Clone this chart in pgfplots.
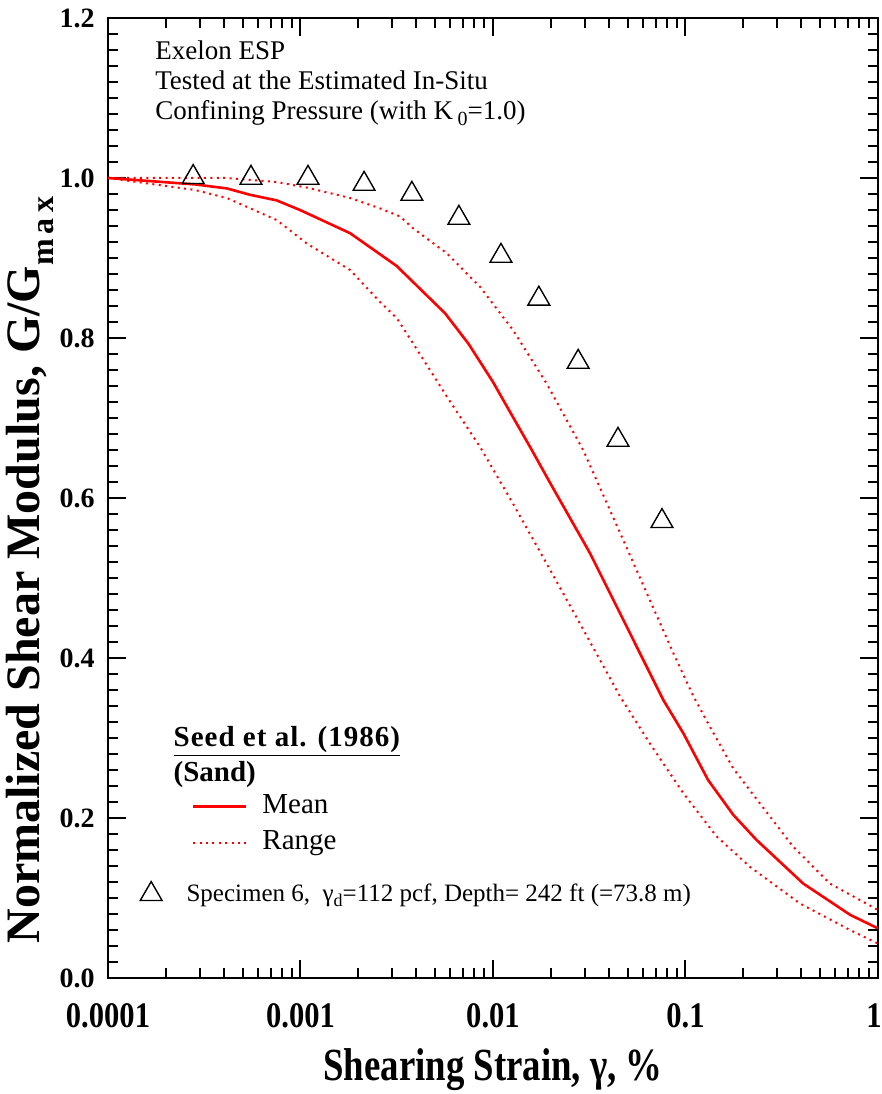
\documentclass[border=0pt]{standalone}
\usepackage{pgfplots}
\pgfplotsset{compat=1.18}
\usepackage{fontspec}
\setmainfont{Liberation Serif}
\definecolor{myred}{RGB}{255,0,0}

\pgfplotstableread{
x y
0.0001 1.000
0.000283 0.992
0.000414 0.987
0.000547 0.979
0.000752 0.972
0.000994 0.960
0.00181 0.931
0.00316 0.890
0.00563 0.831
0.00745 0.793
0.0100 0.745
0.0113 0.7225
0.0159 0.660
0.0200 0.617
0.0319 0.531
0.0767 0.3475
0.0974 0.306
0.131 0.2475
0.177 0.204
0.234 0.1725
0.409 0.118
0.716 0.079
1.0 0.062
}\meandata

\pgfplotstableread{
x y
0.0001 1.000
0.000414 1.000
0.000752 0.995
0.00108 0.988
0.00181 0.975
0.00259 0.962
0.00329 0.952
0.00385 0.937
0.00575 0.906
0.00856 0.864
0.0127 0.810
0.0190 0.743
0.0294 0.660
0.0475 0.5475
0.0865 0.406
0.110 0.352
0.134 0.314
0.177 0.262
0.244 0.218
0.363 0.164
0.563 0.118
1.0 0.085
}\upperdata

\pgfplotstableread{
x y
0.0001 1.000
0.000283 0.985
0.000414 0.975
0.000752 0.9475
0.00108 0.918
0.00181 0.885
0.00259 0.845
0.00316 0.825
0.00385 0.793
0.00575 0.727
0.00856 0.664
0.0127 0.593
0.0190 0.518
0.0283 0.443
0.0457 0.352
0.0654 0.293
0.0974 0.231
0.145 0.177
0.216 0.139
0.394 0.093
0.716 0.060
1.0 0.043
}\lowerdata

\pgfplotstableread{
x y
0.000277 1.001
0.000553 1.000
0.001094 1.000
0.00214 0.9925
0.00379 0.980
0.00665 0.950
0.0110 0.9025
0.0173 0.849
0.0277 0.770
0.0446 0.6725
0.0755 0.571
}\specdata

\begin{document}
\begin{tikzpicture}
\begin{axis}[
  name=main,
  scale only axis, width=385pt, height=480pt,
  xmode=log, xmin=1e-4, xmax=1, ymin=0, ymax=1.2,
  axis line style={line width=1.2pt},
  every tick/.style={black, line width=1pt},
  major tick length=9pt, minor tick length=5pt,
  tick align=inside,
  xtick={1e-4,1e-3,1e-2,1e-1,1},
  xticklabels={\scalebox{0.85}[1]{0.0001},\scalebox{0.85}[1]{0.001},\scalebox{0.85}[1]{0.01},\scalebox{0.85}[1]{0.1},\hspace*{-4pt}\scalebox{0.85}[1]{1}},
  minor xtick={2e-4,3e-4,4e-4,5e-4,6e-4,7e-4,8e-4,9e-4,
               2e-3,3e-3,4e-3,5e-3,6e-3,7e-3,8e-3,9e-3,
               2e-2,3e-2,4e-2,5e-2,6e-2,7e-2,8e-2,9e-2,
               0.2,0.3,0.4,0.5,0.6,0.7,0.8,0.9},
  ytick={0,0.2,0.4,0.6,0.8,1.0,1.2},
  yticklabels={0.0,0.2,0.4,0.6,0.8,1.0,1.2},
  minor y tick num=9,
  xticklabel style={font=\bfseries\fontsize{18}{18}\selectfont, anchor=base, inner sep=0pt, yshift=-24.5pt},
  yticklabel style={font=\bfseries\fontsize{14}{14}\selectfont, anchor=east, inner sep=0pt, xshift=-6.5pt},
  xlabel={\scalebox{0.8}[1]{Shearing Strain, γ, \%}},
  xlabel style={font=\bfseries\fontsize{23}{23}\selectfont, at={(axis description cs:0.5,0)}, anchor=base, inner sep=0pt, yshift=-51pt},
  ylabel={Normalized Shear Modulus, G/G\raisebox{-0.6ex}{\fontsize{16}{16}\selectfont m\,a\,x}},
  ylabel style={font=\bfseries\fontsize{24}{24}\selectfont, at={(axis description cs:-0.1013,0.425)}, anchor=center, inner sep=0pt},
  legend style={draw=none, fill=none, inner sep=0pt, outer sep=0pt,
    font=\fontsize{14.5}{14.5}\selectfont, row sep=5pt,
    nodes={inner sep=0pt, text height=10pt, text depth=3pt},
    at={(axis description cs:0.1089,0.192)}, anchor=north west},
  legend cell align=left,
  legend image code/.code={\draw[#1] (0pt,0pt) -- (26.5pt,0pt); \path (34pt,0pt);},
]
\addplot[myred, line width=1.3pt] table[x=x,y=y] {\meandata};
\addlegendentry{Mean}
\addplot[myred, line width=1pt, dash pattern=on 1pt off 2.2pt] table[x=x,y=y] {\upperdata};
\addlegendentry{Range}
\addplot[myred, line width=1pt, dash pattern=on 1pt off 2.2pt, forget plot] table[x=x,y=y] {\lowerdata};
\addplot[only marks, mark=triangle, mark size=6.3pt, black, mark options={line width=0.7pt}, forget plot] table[x=x,y=y] {\specdata};

\node[anchor=base west, inner sep=0pt, font=\fontsize{13.5}{13.5}\selectfont] at (axis description cs:0.061,0.957) {Exelon ESP};
\node[anchor=base west, inner sep=0pt, font=\fontsize{13.5}{13.5}\selectfont] at (axis description cs:0.061,0.925) {Tested at the Estimated In-Situ};
\node[anchor=base west, inner sep=0pt, font=\fontsize{13.5}{13.5}\selectfont] at (axis description cs:0.061,0.8938) {Confining Pressure (with K\,\raisebox{-0.45ex}{\fontsize{10}{10}\selectfont 0}=1.0)};
\node[anchor=base west, inner sep=0pt, font=\bfseries\fontsize{14.5}{14.5}\selectfont] at (axis description cs:0.0848,0.2409) {\underline{\addfontfeature{LetterSpace=3.5}Seed et al. (1986)}};
\node[anchor=base west, inner sep=0pt, font=\bfseries\fontsize{14.5}{14.5}\selectfont] at (axis description cs:0.0848,0.2045) {(Sand)};
\end{axis}

\begin{axis}[
  scale only axis, width=385pt, height=480pt,
  xmode=log, xmin=1e-4, xmax=1, ymin=0, ymax=1.2,
  hide axis,
  legend style={draw=none, fill=none, inner sep=0pt, outer sep=0pt,
    font=\fontsize{12.5}{12.5}\selectfont,
    nodes={inner sep=0pt},
    at={(axis description cs:0.0270,0.0885)}, anchor=west},
  legend image code/.code={\draw[#1] plot coordinates {(0pt,0pt)}; \path (-11pt,0pt) (17.5pt,0pt);},
]
\addlegendimage{only marks, mark=triangle, mark size=6.3pt, black, mark options={line width=0.7pt}}
\addlegendentry{Specimen 6,\ \ γ\raisebox{-0.45ex}{\fontsize{9}{9}\selectfont d}=112 pcf, Depth= 242 ft (=73.8 m)}
\end{axis}
\pgfresetboundingbox
\path[use as bounding box] (-54pt,-58pt) rectangle (387pt,489pt);
\end{tikzpicture}
\end{document}
